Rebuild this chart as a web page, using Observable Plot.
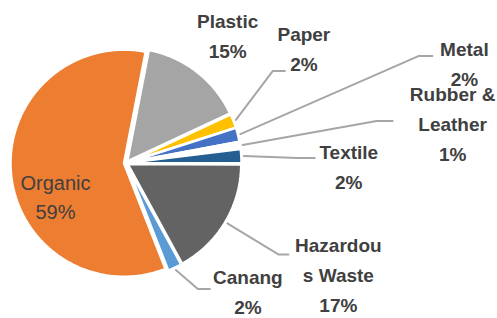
<!DOCTYPE html>
<html>
<head>
<meta charset="utf-8">
<script src="https://cdn.jsdelivr.net/npm/d3@7"></script>
<script src="https://cdn.jsdelivr.net/npm/@observablehq/plot@0.6"></script>
<style>
  html, body { margin: 0; padding: 0; background: #fff; }
  #chart { width: 497px; height: 318px; }
</style>
</head>
<body>
<div id="chart"></div>
<script>
// ---- data ----
const categories = ["Plastic", "Paper", "Metal", "Rubber & Leather", "Textile", "Hazardous Waste", "Canang", "Organic"];
const shares = [15, 2, 2, 1, 2, 17, 2, 59];
const labelNames = ["Plastic", "Paper", "Metal", "Rubber &\nLeather", "Textile", "Hazardou\ns Waste", "Canang", "Organic"];
const sliceColors = ["#A5A5A5", "#FFC000", "#4472C4", "#FFFFFF", "#255E91", "#636363", "#5B9BD5", "#ED7D31"];

// ---- layout (pixels) ----
const W = 497, H = 318;
const cx = 125.5, cy = 162.5, R = 113.5, explode = 2;
const startDeg = 11;
// leader layout relative to slice anchor: elbow (ex, ey), horizontal run h, text offset from run end (tx, ty)
const leaderLayout = {
  "Plastic":          {leader: false, tx: 29, ty: -12},
  "Paper":            {leader: true, ex: 37, ey: -49, h: 12, tx: 19, ty: 0},
  "Metal":            {leader: true, ex: 178, ey: -78, h: 14, tx: 32, ty: 30},
  "Rubber & Leather": {leader: true, ex: 134, ey: -24, h: 16, tx: 60, ty: 40},
  "Textile":          {leader: true, ex: 54, ey: 2, h: 17, tx: 34, ty: 31},
  "Hazardous Waste":  {leader: true, ex: 51, ey: 31, h: 10, tx: 50, ty: 58},
  "Canang":           {leader: true, ex: 22, ey: 19, h: 12, tx: 38, ty: 25},
  "Organic":          {inside: true, tx: -70.5, ty: 55.5}
};

const rad = d => d * Math.PI / 180;
const arcs = d3.pie().sort(null).value(d => d.value)
  .startAngle(rad(startDeg)).endAngle(rad(startDeg + 360))(
    categories.map((c, i) => ({cat: c, value: shares[i], name: labelNames[i]}))
  );

// slice polygons
const polys = [];
arcs.forEach(a => {
  const mid = (a.startAngle + a.endAngle) / 2;
  const ox = explode * Math.sin(mid), oy = -explode * Math.cos(mid);
  const c = a.data.cat;
  polys.push({cat: c, x: cx + ox, y: cy + oy});
  const n = Math.max(2, Math.ceil((a.endAngle - a.startAngle) / rad(1)));
  for (let k = 0; k <= n; k++) {
    const t = a.startAngle + (a.endAngle - a.startAngle) * k / n;
    polys.push({cat: c, x: cx + ox + R * Math.sin(t), y: cy + oy - R * Math.cos(t)});
  }
});

// leaders + labels
const leaders = [];
const boldLabels = [];
const insideLabels = [];
arcs.forEach(a => {
  const mid = (a.startAngle + a.endAngle) / 2;
  const c = a.data.cat;
  const L = leaderLayout[c];
  const text = a.data.name + "\n" + a.data.value + "%";
  if (L.inside) {
    insideLabels.push({x: cx + L.tx, y: cy + L.ty, text});
    return;
  }
  const ax = cx + (R + explode + 2.5) * Math.sin(mid);
  const ay = cy - (R + explode + 2.5) * Math.cos(mid);
  if (L.leader) {
    const exx = ax + L.ex, eyy = ay + L.ey;
    const hx = exx + L.h, hy = eyy;
    leaders.push({cat: c, x: ax, y: ay}, {cat: c, x: exx, y: eyy}, {cat: c, x: hx, y: hy});
    boldLabels.push({x: hx + L.tx, y: hy + L.ty, text});
  } else {
    boldLabels.push({x: ax + L.tx, y: ay + L.ty, text});
  }
});

const chart = Plot.plot({
  width: W,
  height: H,
  margin: 0,
  x: {domain: [0, W], range: [0, W], axis: null},
  y: {domain: [0, H], range: [0, H], axis: null},
  color: {domain: categories, range: sliceColors},
  style: {background: "#fff", overflow: "visible"},
  marks: [
    Plot.line(polys, {x: "x", y: "y", z: "cat", fill: "cat", stroke: "#fff", strokeWidth: 2.5, curve: "linear-closed", strokeLinejoin: "miter"}),
    Plot.line(leaders, {x: "x", y: "y", z: "cat", stroke: "#A6A6A6", strokeWidth: 2, curve: "linear"}),
    Plot.text(boldLabels, {x: "x", y: "y", text: "text", textAnchor: "middle", lineAnchor: "bottom",
      lineHeight: 30 / 19, fontSize: 19, fontWeight: "bold", fontFamily: "Liberation Sans, Arial, sans-serif", fill: "#404040"}),
    Plot.text(insideLabels, {x: "x", y: "y", text: "text", textAnchor: "middle", lineAnchor: "bottom",
      lineHeight: 29 / 20, fontSize: 20, fontFamily: "Liberation Sans, Arial, sans-serif", fill: "#404040"})
  ]
});
document.getElementById("chart").appendChild(chart);
</script>
</body>
</html>
